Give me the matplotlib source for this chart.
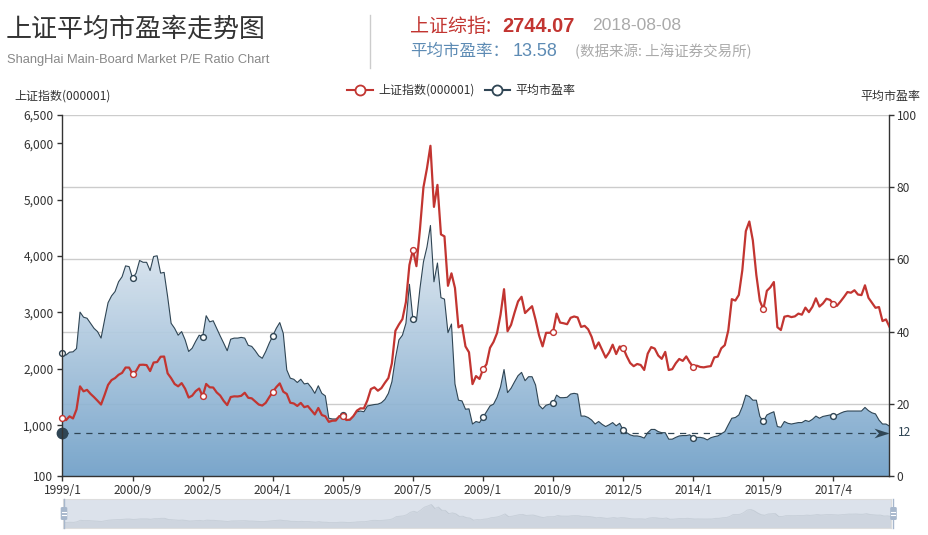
import numpy as np
import matplotlib
matplotlib.use('Agg')
import matplotlib.pyplot as plt
from matplotlib.path import Path
from matplotlib.patches import Polygon, FancyBboxPatch
from matplotlib.lines import Line2D
from matplotlib.ticker import FuncFormatter

plt.rcParams['font.family'] = ['Noto Sans CJK SC', 'DejaVu Sans']

# monthly close of the Shanghai composite (000001), 1999/1 .. 2018/8
sh_index = [
    1134, 1090, 1158, 1120, 1280, 1689, 1601, 1627, 1556, 1498, 1434, 1367,
    1535, 1715, 1801, 1836, 1894, 1928, 2023, 2022, 1910, 1961, 2070, 2073,
    2066, 1960, 2112, 2120, 2214, 2218, 1920, 1834, 1731, 1690, 1747, 1646,
    1491, 1524, 1604, 1651, 1514, 1732, 1672, 1669, 1582, 1526, 1431, 1357,
    1500, 1512, 1510, 1521, 1576, 1487, 1477, 1422, 1367, 1349, 1397, 1497,
    1590, 1675, 1742, 1595, 1555, 1399, 1386, 1342, 1396, 1320, 1340, 1266,
    1191, 1306, 1181, 1159, 1060, 1080, 1083, 1162, 1155, 1092, 1099, 1161,
    1258, 1299, 1298, 1440, 1641, 1672, 1612, 1658, 1752, 1837, 2099, 2675,
    2786, 2881, 3183, 3841, 4109, 3820, 4471, 5218, 5552, 5954, 4871, 5261,
    4383, 4348, 3472, 3693, 3433, 2736, 2775, 2397, 2293, 1729, 1871, 1821,
    1991, 2082, 2373, 2477, 2633, 2959, 3412, 2667, 2779, 2996, 3195, 3277,
    2989, 3051, 3110, 2870, 2592, 2398, 2638, 2639, 2656, 2979, 2820, 2808,
    2791, 2905, 2928, 2911, 2743, 2762, 2701, 2567, 2359, 2468, 2333, 2199,
    2292, 2428, 2262, 2396, 2373, 2225, 2103, 2047, 2086, 2068, 1980, 2269,
    2385, 2359, 2236, 2177, 2300, 1979, 1994, 2098, 2175, 2141, 2220, 2116,
    2033, 2056, 2033, 2026, 2039, 2048, 2202, 2217, 2364, 2420, 2683, 3235,
    3210, 3310, 3748, 4442, 4612, 4277, 3664, 3206, 3053, 3383, 3445, 3539,
    2738, 2688, 2924, 2938, 2917, 2930, 2979, 2960, 3085, 3005, 3100, 3250,
    3104, 3159, 3242, 3223, 3155, 3117, 3192, 3273, 3361, 3349, 3393, 3317,
    3307, 3481, 3259, 3169, 3082, 3095, 2847, 2876, 2744,
]

# average P/E of the main board, same months
avg_pe = [
    34.0, 33.5, 34.3, 34.4, 35.3, 45.4, 44.0, 43.7, 42.3, 40.9, 40.0, 38.2,
    43.2, 48.0, 49.9, 51.1, 53.8, 55.2, 58.2, 58.0, 54.8, 56.2, 59.7, 59.2,
    59.2, 56.9, 60.8, 61.0, 56.2, 56.4, 49.7, 42.3, 40.9, 39.0, 40.0, 37.7,
    34.5, 35.4, 37.3, 39.0, 38.6, 44.4, 42.7, 43.0, 40.9, 38.8, 36.8, 34.7,
    37.9, 38.2, 38.2, 38.4, 38.2, 36.2, 35.9, 34.7, 33.3, 32.6, 34.5, 36.8,
    38.8, 40.9, 42.5, 39.5, 29.4, 27.1, 26.8, 25.9, 26.8, 25.5, 25.7, 24.5,
    22.9, 25.0, 22.9, 22.2, 16.0, 15.8, 15.8, 16.5, 16.9, 15.7, 15.5, 16.6,
    17.8, 18.0, 17.8, 19.4, 19.6, 19.8, 19.9, 20.3, 21.2, 22.9, 26.1, 32.6,
    37.7, 39.0, 42.3, 53.1, 43.4, 43.0, 51.9, 59.3, 63.4, 69.4, 53.8, 59.0,
    49.4, 49.0, 39.7, 42.1, 25.5, 21.0, 20.8, 18.5, 18.6, 14.4, 15.1, 14.8,
    16.3, 17.8, 19.4, 19.9, 21.8, 24.7, 29.5, 23.1, 24.3, 26.1, 27.8, 28.7,
    26.4, 27.5, 27.5, 25.2, 19.6, 18.6, 19.6, 19.9, 20.1, 22.4, 21.7, 21.7,
    21.8, 22.7, 22.9, 22.7, 16.6, 16.6, 16.2, 15.5, 14.4, 15.1, 14.3, 13.7,
    14.2, 14.8, 13.9, 14.6, 12.7, 12.0, 11.4, 11.1, 11.1, 10.9, 10.5, 12.0,
    12.9, 12.9, 12.3, 12.0, 12.0, 10.2, 10.2, 10.7, 11.1, 11.2, 11.2, 11.4,
    10.6, 10.7, 10.7, 10.5, 10.0, 10.6, 10.9, 11.1, 11.7, 12.3, 14.2, 16.0,
    16.2, 16.9, 19.2, 22.4, 22.0, 21.0, 21.0, 16.5, 15.1, 16.9, 17.4, 17.8,
    13.7, 13.5, 15.1, 14.6, 14.4, 14.6, 14.8, 14.8, 15.4, 15.1, 15.7, 16.6,
    16.0, 16.5, 16.7, 16.9, 16.7, 16.9, 17.4, 17.8, 18.0, 18.0, 18.0, 18.0,
    18.0, 19.0, 18.1, 17.5, 17.2, 15.5, 14.4, 14.4, 13.8,
]

# category labels: one per month, the source data lists 2016/7 twice
months = []
for yr in range(1999, 2019):
    for mo in range(1, 13):
        months.append(f'{yr}/{mo}')
months = months[:months.index('2018/8') + 1]
months.insert(months.index('2016/7') + 1, '2016/7')

pe_mark = 12
left_ticks = [100, 1000, 2000, 3000, 4000, 5000, 6000, 6500]
right_ticks = [0, 20, 40, 60, 80, 100]
label_step = 20

RED = '#c23531'
DARK = '#2f4554'
TXT = '#333333'

W, H = 929, 535
fig = plt.figure(figsize=(W / 100, H / 100), dpi=100)


def fx(px):
    return px / W


def fy(py):
    return 1 - py / H


def pt(px):
    return px * 0.72


n = len(sh_index)
x = np.arange(n)

# main plot area
L, R, T, B = 62.5, 889.5, 115, 476
ax = fig.add_axes([fx(L), fy(B), fx(R) - fx(L), fy(T) - fy(B)])
ax2 = ax.twinx()
ax.set_zorder(ax2.get_zorder() + 1)
ax.patch.set_visible(False)

# P/E area with vertical gradient
verts = [(0, 0)] + list(zip(x, avg_pe)) + [(n - 1, 0)]
clip = Polygon(verts, closed=True, facecolor='none', edgecolor='none',
               transform=ax2.transData)
ax2.add_patch(clip)
top_c = np.array([228, 235, 242]) / 255
bot_c = np.array([112, 160, 200]) / 255
t = np.linspace(0, 1, 256)[:, None]
grad = (top_c * (1 - t) + bot_c * t)[:, None, :]
im = ax2.imshow(grad, extent=[0, n - 1, 0, max(avg_pe)], aspect='auto',
                origin='upper', alpha=0.93, zorder=1, interpolation='bilinear')
im.set_clip_path(clip)
ax2.plot(x, avg_pe, color=DARK, lw=0.8, zorder=2)
ax2.plot(x[::label_step], np.array(avg_pe)[::label_step], 'o', ls='none',
         mfc='white', mec=DARK, ms=4.2, mew=1, zorder=4, clip_on=False)

# mark line at pe_mark
ax2.plot([0, n - 1], [pe_mark, pe_mark], color=DARK, lw=0.9,
         dashes=(5, 4.5), zorder=3)
ax2.plot(0, pe_mark, 'o', color=DARK, ms=7.5, zorder=5, clip_on=False)
arrow = Path([(0, 0), (-2, 0.65), (-1.4, 0), (-2, -0.65), (0, 0)],
             [Path.MOVETO, Path.LINETO, Path.LINETO, Path.LINETO, Path.CLOSEPOLY])
ax2.plot(n - 1, pe_mark, marker=arrow, color=DARK, ms=pt(30), mew=0,
         zorder=5, clip_on=False)
ax2.annotate(str(pe_mark), (n - 1, pe_mark), xytext=(pt(8), 0),
             textcoords='offset points', va='center', ha='left',
             fontsize=pt(12), color=DARK, annotation_clip=False)

# index line
ax.plot(x, sh_index, color=RED, lw=1.6, zorder=3)
ax.plot(x[::label_step], np.array(sh_index)[::label_step], 'o', ls='none',
        mfc='white', mec=RED, ms=4.2, mew=1, zorder=4, clip_on=False)

# axes
ax.set_xlim(0, n - 1)
ax.set_ylim(left_ticks[0], left_ticks[-1])
ax.set_yticks(left_ticks)
ax.yaxis.set_major_formatter(FuncFormatter(lambda v, p: f'{int(v):,}'))
ax2.set_ylim(right_ticks[0], right_ticks[-1])
ax2.set_yticks(right_ticks)
ax.set_xticks(x[::label_step])
ax.set_xticklabels(months[::label_step])

ax2.yaxis.grid(True, color='#cccccc', lw=1)
ax2.set_axisbelow(True)
ax2.xaxis.grid(False)

for a in (ax, ax2):
    for s in a.spines.values():
        s.set_visible(False)
ax.spines['left'].set_visible(True)
ax.spines['bottom'].set_visible(True)
ax2.spines['right'].set_visible(True)
for s in (ax.spines['left'], ax.spines['bottom'], ax2.spines['right']):
    s.set_color(TXT)
    s.set_linewidth(1)

ax.tick_params(axis='both', length=pt(5), width=1, color=TXT,
               labelsize=pt(12), labelcolor=TXT, pad=pt(4))
ax.tick_params(axis='x', pad=pt(3))
ax2.tick_params(axis='y', length=pt(5), width=1, color=TXT,
                labelsize=pt(12), labelcolor=TXT, pad=pt(2))

# axis names
fig.text(fx(14), fy(96), '上证指数(000001)', fontsize=pt(12), color=TXT,
         ha='left', va='center')
fig.text(fx(920), fy(96), '平均市盈率', fontsize=pt(12), color=TXT,
         ha='right', va='center')

# legend
for x0, x1, col, label in [(347, 373, RED, '上证指数(000001)'),
                           (485, 510, DARK, '平均市盈率')]:
    fig.add_artist(Line2D([fx(x0), fx(x1)], [fy(90), fy(90)], color=col,
                          lw=1.5, transform=fig.transFigure))
    fig.add_artist(Line2D([fx((x0 + x1) / 2)], [fy(90)], marker='o', ls='none',
                          ms=pt(10), mfc='white', mec=col, mew=1.3,
                          transform=fig.transFigure))
    fig.text(fx(x1 + 5), fy(90), label, fontsize=pt(12), color=TXT,
             ha='left', va='center')

# header
fig.text(fx(6), fy(29), '上证平均市盈率走势图', fontsize=pt(26), color=TXT,
         ha='left', va='center')
fig.text(fx(7), fy(60), 'ShangHai Main-Board Market P/E Ratio Chart',
         fontsize=pt(12.9), color='#888888', ha='left', va='center',
         family='Liberation Sans')
fig.add_artist(Line2D([fx(370), fx(370)], [fy(15), fy(68)], color='#cccccc',
                      lw=1, transform=fig.transFigure))
fig.text(fx(410), fy(26), '上证综指:', fontsize=pt(19), color=RED,
         ha='left', va='center')
fig.text(fx(502), fy(26), '2744.07', fontsize=pt(20), color=RED,
         fontweight='bold', ha='left', va='center', family='Liberation Sans')
fig.text(fx(592), fy(26), '2018-08-08', fontsize=pt(17.5), color='#aaaaaa',
         ha='left', va='center', family='Liberation Sans')
fig.text(fx(410), fy(51), '平均市盈率：', fontsize=pt(16.5), color='#5d8bb4',
         ha='left', va='center')
fig.text(fx(513), fy(51), '13.58', fontsize=pt(18), color='#5d8bb4',
         ha='left', va='center', family='Liberation Sans')
fig.text(fx(575), fy(51), '(数据来源: 上海证券交易所)', fontsize=pt(14.5),
         color='#aaaaaa', ha='left', va='center')

# data zoom slider at the bottom
SL, SR, ST, SB = 63, 891, 499, 528
sax = fig.add_axes([fx(SL), fy(SB), fx(SR) - fx(SL), fy(ST) - fy(SB)])
sax.set_facecolor('#dce2eb')
for s in sax.spines.values():
    s.set_color('#dddddd')
ext = max(sh_index) - min(sh_index)
lo, hi = min(sh_index) - 0.3 * ext, max(sh_index) + 0.3 * ext
sax.fill_between(x, sh_index, lo, color=DARK, alpha=0.08, lw=0)
sax.plot(x, sh_index, color=DARK, alpha=0.12, lw=0.6)
sax.set_xlim(0, n - 1)
sax.set_ylim(lo, hi)
sax.set_xticks([])
sax.set_yticks([])

for hx in (64, 893.5):
    fig.add_artist(Line2D([fx(hx), fx(hx)], [fy(ST), fy(SB)], color='#a7b7cc',
                          lw=1, transform=fig.transFigure))
    fig.add_artist(FancyBboxPatch((fx(hx - 3.3), fy(520)), fx(6.6), fy(507) - fy(520),
                                  boxstyle='round,pad=0,rounding_size=0.002',
                                  facecolor='#a7b7cc', edgecolor='none',
                                  transform=fig.transFigure))
    for hy in (512, 515):
        fig.add_artist(Line2D([fx(hx - 2), fx(hx + 2)], [fy(hy), fy(hy)],
                              color='white', lw=0.8, transform=fig.transFigure))

fig.savefig('out.png', dpi=100)
